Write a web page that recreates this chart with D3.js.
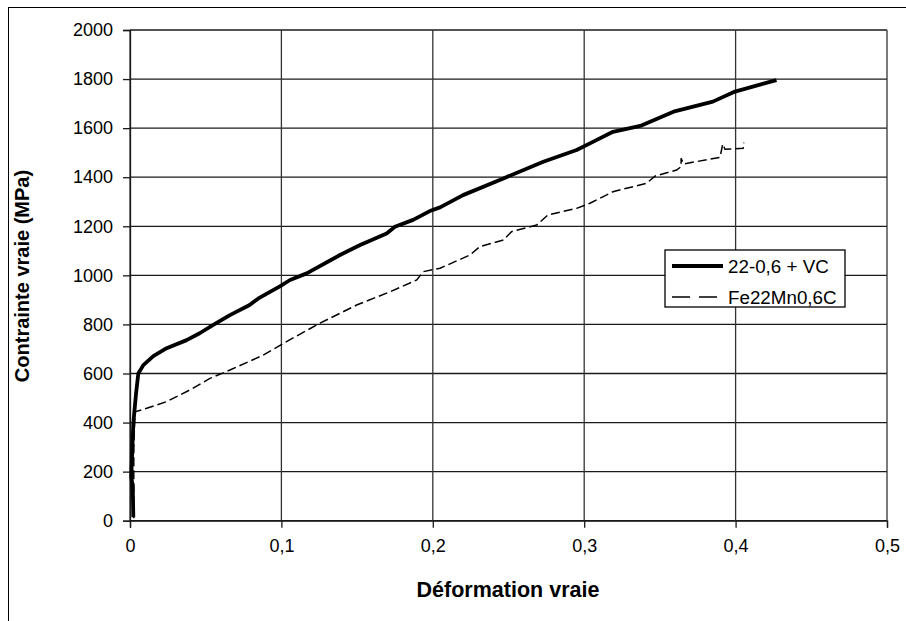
<!DOCTYPE html>
<html><head><meta charset="utf-8">
<script src="https://cdn.jsdelivr.net/npm/d3@7"></script>
<style>html,body{margin:0;padding:0;background:#fff;}svg{display:block;font-family:Arial,"Liberation Sans",sans-serif;}</style>
</head><body>
<svg id="c" width="906" height="621"></svg>
<script>
const vcStrain = [0.0022,0.0018,0.0008,0.0010,0.0022,0.0040,0.0055,0.0088,0.0154,0.0242,0.0374,0.0460,0.0550,0.0660,0.0790,0.0848,0.0990,0.1057,0.1167,0.1387,0.1520,0.1695,0.1750,0.1870,0.1980,0.2048,0.2200,0.2466,0.2730,0.2950,0.3038,0.3190,0.3370,0.3590,0.3850,0.3996,0.4270];
const vcStress = [14,139,180,207,397,519,600,634,671,703,736,764,798,838,879,906,955,981,1008,1083,1124,1171,1198,1226,1262,1277,1327,1395,1463,1511,1538,1585,1609,1667,1708,1749,1796];
const refStrain = [0.0025,0.0025,0.0033,0.0110,0.0240,0.0396,0.0528,0.0660,0.0880,0.1057,0.1255,0.1497,0.1717,0.1894,0.1937,0.2048,0.2246,0.2310,0.2466,0.2520,0.2686,0.2760,0.2950,0.3038,0.3190,0.3410,0.3470,0.3610,0.3640,0.3640,0.3656,0.3897,0.3915,0.3930,0.4050,0.4055];
const refStress = [10,300,444,458,485,533,580,614,675,738,805,879,933,981,1015,1029,1083,1117,1144,1178,1205,1246,1273,1294,1341,1375,1405,1429,1443,1477,1454,1481,1535,1514,1518,1541];
const seriesNames = ["22-0,6 + VC","Fe22Mn0,6C"];
const xTicks = [0,0.1,0.2,0.3,0.4,0.5];
const xTickLabels = ["0","0,1","0,2","0,3","0,4","0,5"];
const yTicks = [0,200,400,600,800,1000,1200,1400,1600,1800,2000];
const xTitle = "Déformation vraie";
const yTitle = "Contrainte vraie (MPa)";

const svg = d3.select("#c");
const x = d3.scaleLinear().domain([0,0.5]).range([130,887]);
const y = d3.scaleLinear().domain([0,2000]).range([520.7,30]);

// outer frame
svg.append("rect").attr("x",8.5).attr("y",7.5).attr("width",910).attr("height",630)
  .attr("fill","#fff").attr("stroke","#000").attr("stroke-width",1);

// gridlines
const grid = svg.append("g");
grid.selectAll("line.h").data(yTicks).join("line").attr("class","h")
  .attr("x1",x(0)).attr("x2",x(0.5)).attr("y1",d=>y(d)).attr("y2",d=>y(d))
  .attr("stroke","#1a1a1a").attr("stroke-width",1.3);
grid.selectAll("line.v").data(xTicks).join("line").attr("class","v")
  .attr("y1",y(0)).attr("y2",y(2000)).attr("x1",d=>x(d)).attr("x2",d=>x(d))
  .attr("stroke","#333").attr("stroke-width",1.3);

// axes
const yAxis = d3.axisLeft(y).tickValues(yTicks).tickSize(7).tickPadding(10).tickFormat(d3.format("d"));
const gy = svg.append("g").attr("transform",`translate(${x(0)},0)`).call(yAxis);
const xAxis = d3.axisBottom(x).tickValues(xTicks).tickSize(7).tickPadding(12).tickFormat((d,i)=>xTickLabels[i]);
const gx = svg.append("g").attr("transform",`translate(0,${y(0)})`).call(xAxis);
[gx,gy].forEach(g=>{
  g.select(".domain").attr("stroke","#1a1a1a").attr("stroke-width",1.3);
  g.selectAll(".tick line").attr("stroke","#1a1a1a").attr("stroke-width",1.3);
  g.selectAll("text").attr("font-size",18).attr("fill","#000").attr("font-family","Arial, 'Liberation Sans', sans-serif");
});

// lines
const line = d3.line().x(d=>x(d[0])).y(d=>y(d[1]));
const refData = refStrain.map((s,i)=>[s,refStress[i]]);
const vcData = vcStrain.map((s,i)=>[s,vcStress[i]]);
svg.append("path").datum(refData).attr("d",line).attr("fill","none")
  .attr("stroke","#000").attr("stroke-width",1.5).attr("stroke-dasharray","9,4");
svg.append("path").datum(vcData).attr("d",line).attr("fill","none")
  .attr("stroke","#000").attr("stroke-width",3.8).attr("stroke-linejoin","round");

// axis titles
svg.append("text").attr("x",508).attr("y",597).attr("text-anchor","middle")
  .attr("font-size",21.5).attr("font-weight","bold").text(xTitle);
svg.append("text").attr("transform","translate(29,276) rotate(-90)").attr("text-anchor","middle")
  .attr("font-size",20).attr("font-weight","bold").text(yTitle);

// legend
const lg = svg.append("g");
lg.append("rect").attr("x",665).attr("y",250).attr("width",180).attr("height",57)
  .attr("fill","#fff").attr("stroke","#000").attr("stroke-width",1.3);
const rows = [{y:266, w:3.8, dash:null},{y:297, w:1.5, dash:"18,9"}];
rows.forEach((r,i)=>{
  const l = lg.append("line").attr("x1",672).attr("x2",723).attr("y1",r.y).attr("y2",r.y)
    .attr("stroke","#000").attr("stroke-width",r.w);
  if(r.dash) l.attr("stroke-dasharray",r.dash);
  lg.append("text").attr("x",728).attr("y",r.y+6.5).attr("font-size",18.8).text(seriesNames[i]);
});
</script>
</body></html>
